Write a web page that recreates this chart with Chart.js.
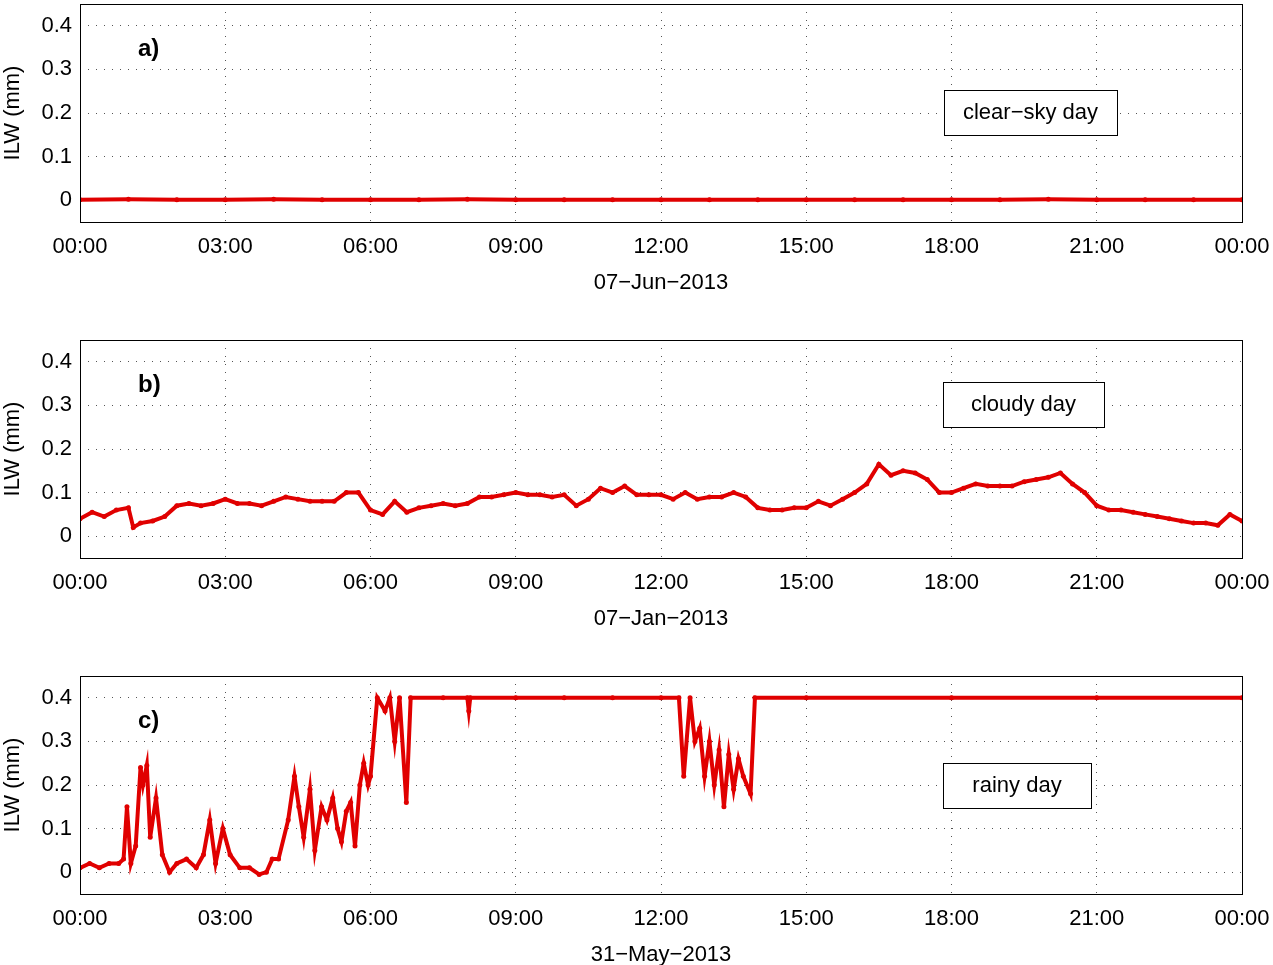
<!DOCTYPE html>
<html>
<head>
<meta charset="utf-8">
<script src="https://cdn.jsdelivr.net/npm/chart.js@4"></script>
<style>
body { margin: 0; background: #fff; }
.panel { position: absolute; left: 0; width: 1273px; height: 300px; }
</style>
</head>
<body>
<div class="panel" style="top:0"><canvas id="cA"></canvas></div>
<div class="panel" style="top:336px"><canvas id="cB"></canvas></div>
<div class="panel" style="top:672px"><canvas id="cC"></canvas></div>
<script>
// hours of day
var xTicks = [0, 3, 6, 9, 12, 15, 18, 21, 24];
var yTicks = [0, 0.1, 0.2, 0.3, 0.4];

// a) clear-sky day, 07-Jun-2013
var aT = [0, 1, 2, 3, 4, 5, 6, 7, 8, 9, 10, 11, 12, 13, 14, 15, 16, 17, 18, 19, 20, 21, 22, 23, 24];
var aV = [0.001, 0.002, 0.001, 0.001, 0.002, 0.001, 0.001, 0.001, 0.002, 0.001, 0.001, 0.001, 0.001,
          0.001, 0.001, 0.001, 0.001, 0.001, 0.001, 0.001, 0.002, 0.001, 0.001, 0.001, 0.001];

// b) cloudy day, 07-Jan-2013
var bT = [0, 0.25, 0.5, 0.75, 1.0, 1.1, 1.25, 1.5, 1.75, 2.0, 2.25, 2.5, 2.75, 3.0, 3.25, 3.5, 3.75, 4.0, 4.25, 4.5, 4.75,
          5.0, 5.25, 5.5, 5.75, 6.0, 6.25, 6.5, 6.75, 7.0, 7.25, 7.5, 7.75, 8.0, 8.25, 8.5, 8.75, 9.0, 9.25, 9.5, 9.75,
          10.0, 10.25, 10.5, 10.75, 11.0, 11.25, 11.5, 11.75, 12.0, 12.25, 12.5, 12.75, 13.0, 13.25, 13.5, 13.75,
          14.0, 14.25, 14.5, 14.75, 15.0, 15.25, 15.5, 15.75, 16.0, 16.25, 16.5, 16.75, 17.0, 17.25, 17.5, 17.75,
          18.0, 18.25, 18.5, 18.75, 19.0, 19.25, 19.5, 19.75, 20.0, 20.25, 20.5, 20.75, 21.0, 21.25, 21.5, 21.75,
          22.0, 22.25, 22.5, 22.75, 23.0, 23.25, 23.5, 23.75, 24];
var bV = [0.04, 0.055, 0.045, 0.06, 0.065, 0.02, 0.03, 0.035, 0.045, 0.07, 0.075, 0.07, 0.075, 0.085, 0.075, 0.075, 0.07,
          0.08, 0.09, 0.085, 0.08, 0.08, 0.08, 0.1, 0.1, 0.06, 0.05, 0.08, 0.055, 0.065, 0.07, 0.075, 0.07, 0.075, 0.09,
          0.09, 0.095, 0.1, 0.095, 0.095, 0.09, 0.095, 0.07, 0.085, 0.11, 0.1, 0.115, 0.095, 0.095, 0.095, 0.085, 0.1,
          0.085, 0.09, 0.09, 0.1, 0.09, 0.065, 0.06, 0.06, 0.065, 0.065, 0.08, 0.07, 0.085, 0.1, 0.12, 0.165, 0.14,
          0.15, 0.145, 0.13, 0.1, 0.1, 0.11, 0.12, 0.115, 0.115, 0.115, 0.125, 0.13, 0.135, 0.145, 0.12, 0.1, 0.07,
          0.06, 0.06, 0.055, 0.05, 0.045, 0.04, 0.035, 0.03, 0.03, 0.025, 0.05, 0.035];

// c) rainy day, 31-May-2013
var cT = [0, 0.2, 0.4, 0.6, 0.8, 0.9, 0.97, 1.05, 1.15, 1.25, 1.3, 1.38, 1.45, 1.57, 1.7, 1.85, 2.0, 2.2, 2.4, 2.55, 2.68,
          2.8, 2.95, 3.1, 3.3, 3.5, 3.7, 3.85, 3.97, 4.1, 4.3, 4.43, 4.52, 4.62, 4.75, 4.85, 4.99, 5.1, 5.22, 5.32, 5.4,
          5.5, 5.59, 5.68, 5.78, 5.86, 5.95, 6.0, 6.14, 6.3, 6.4, 6.5, 6.6, 6.74, 6.83, 7.5, 8.0, 8.03, 8.06, 9.0, 10.0,
          11.0, 12.0, 12.37, 12.47, 12.6, 12.7, 12.8, 12.9, 13.0, 13.1, 13.2, 13.3, 13.4, 13.5, 13.6, 13.7, 13.85, 13.94,
          15.0, 18.0, 21.0, 24];
var cV = [0.01, 0.02, 0.01, 0.02, 0.02, 0.03, 0.15, 0.02, 0.06, 0.24, 0.2, 0.245, 0.08, 0.17, 0.04, 0.0, 0.02, 0.03, 0.01, 0.04, 0.12,
          0.02, 0.1, 0.04, 0.01, 0.01, -0.005, 0.0, 0.03, 0.03, 0.12, 0.22, 0.15, 0.08, 0.19, 0.05, 0.15, 0.12, 0.17, 0.1, 0.07,
          0.14, 0.16, 0.06, 0.2, 0.25, 0.2, 0.22, 0.4, 0.37, 0.4, 0.3, 0.4, 0.16, 0.4, 0.4, 0.4, 0.37, 0.4, 0.4, 0.4,
          0.4, 0.4, 0.4, 0.22, 0.4, 0.3, 0.33, 0.22, 0.3, 0.2, 0.28, 0.15, 0.27, 0.19, 0.26, 0.22, 0.18, 0.4,
          0.4, 0.4, 0.4, 0.4];

var FONT = "'Liberation Sans', Arial, sans-serif";
var RED = '#e00000';

var overlay = {
    id: 'overlay',
    afterDraw: function (chart) {
        var o = chart.options.plugins.overlay;
        var ctx = chart.ctx, a = chart.chartArea;
        ctx.save();
        ctx.strokeStyle = '#000';
        ctx.lineWidth = 1;
        ctx.strokeRect(a.left + 0.5, a.top + 0.5, a.right - a.left, a.bottom - a.top);
        ctx.font = 'bold 24px ' + FONT;
        ctx.fillStyle = '#000';
        ctx.textBaseline = 'middle';
        ctx.fillText(o.tag, a.left + 58, a.top + 45);
        ctx.font = '22px ' + FONT;
        ctx.fillStyle = '#fff';
        ctx.fillRect(o.bx, o.by, o.bw, 45);
        ctx.strokeRect(o.bx + 0.5, o.by + 0.5, o.bw, 45);
        ctx.fillStyle = '#000';
        ctx.textAlign = 'center';
        ctx.fillText(o.text, o.bx + o.bw / 2, o.by + 23);
        ctx.restore();
    }
};

function makeChart(id, xs, ys, date, tag, text, bx, by, bw) {
    var pts = xs.map(function (x, i) { return { x: x, y: ys[i] }; });
    return new Chart(document.getElementById(id), {
        type: 'line',
        data: { datasets: [{ data: pts, borderColor: RED, backgroundColor: RED, borderWidth: 4,
                             pointRadius: 2.5, pointBorderWidth: 0, tension: 0 }] },
        options: {
            responsive: true, maintainAspectRatio: false, animation: false,
            layout: { padding: { top: 3, right: 31, left: 0, bottom: 0 } },
            plugins: { legend: { display: false }, tooltip: { enabled: false },
                       overlay: { tag: tag, text: text, bx: bx, by: by, bw: bw } },
            scales: {
                x: {
                    type: 'linear', min: 0, max: 24,
                    afterBuildTicks: function (s) { s.ticks = xTicks.map(function (v) { return { value: v }; }); },
                    afterFit: function (s) { s.height = 78; s.paddingLeft = 0; s.paddingRight = 0; },
                    grid: { color: '#555', drawTicks: false },
                    border: { display: false, dash: [1, 7] },
                    ticks: { color: '#000', font: { family: FONT, size: 22 }, padding: 12, maxRotation: 0,
                             callback: function (v) { var h = v % 24; return (h < 10 ? '0' : '') + h + ':00'; } },
                    title: { display: true, text: date, color: '#000', font: { family: FONT, size: 22 }, padding: { top: 0 } }
                },
                y: {
                    min: -0.05, max: 0.45,
                    afterBuildTicks: function (s) { s.ticks = yTicks.map(function (v) { return { value: v }; }); },
                    afterFit: function (s) { s.width = 80; s.paddingTop = 0; s.paddingBottom = 0; },
                    grid: { color: '#555', drawTicks: false },
                    border: { display: false, dash: [1, 7] },
                    ticks: { color: '#000', font: { family: FONT, size: 22 }, padding: 8,
                             callback: function (v) { return String(Math.round(v * 10) / 10); } },
                    title: { display: true, text: 'ILW (mm)', color: '#000', font: { family: FONT, size: 22 }, padding: 0 }
                }
            }
        },
        plugins: [overlay]
    });
}

makeChart('cA', aT, aV, '07\u2212Jun\u22122013', 'a)', 'clear\u2212sky day', 944, 90, 173);
makeChart('cB', bT, bV, '07\u2212Jan\u22122013', 'b)', 'cloudy day', 943, 46, 161);
makeChart('cC', cT, cV, '31\u2212May\u22122013', 'c)', 'rainy day', 943, 91, 148);
</script>
</body>
</html>
